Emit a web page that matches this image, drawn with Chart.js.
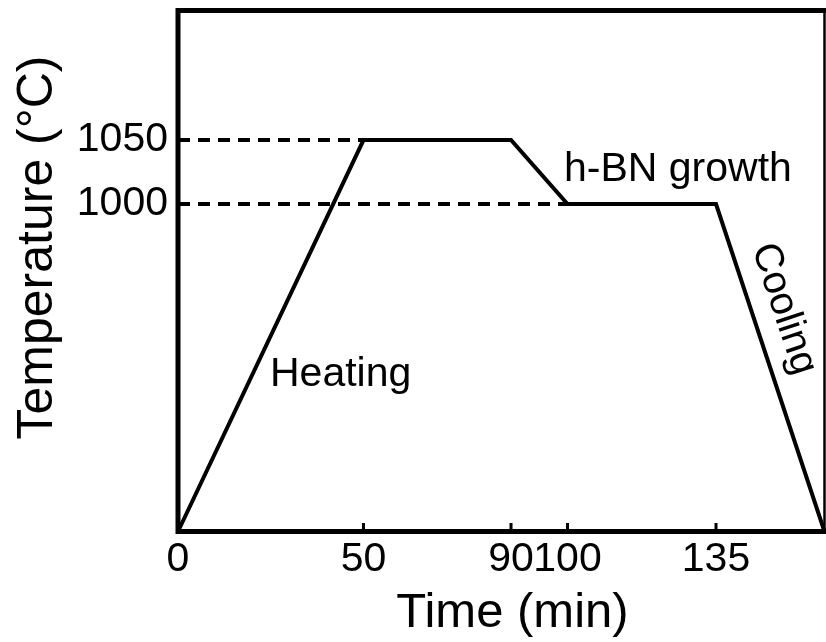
<!DOCTYPE html>
<html>
<head>
<meta charset="utf-8">
<script src="https://cdn.jsdelivr.net/npm/chart.js@4.4.1/dist/chart.umd.min.js"></script>
<style>
  html, body { margin: 0; padding: 0; background: #ffffff; }
  #wrap { width: 826px; height: 642px; }
</style>
</head>
<body>
<div id="wrap"><canvas id="c" width="826" height="642"></canvas></div>
<script>
const timeMin      = [0, 50, 90, 100, 135, 165];          // min
const temperatureC = [25, 1050, 1050, 1000, 1000, 25];     // °C
const xTickValues  = [0, 50, 90, 100, 135];
const yTickValues  = [1000, 1050];
const guideLevels  = [1050, 1000];   // dashed reference levels (°C)
const guideEnds    = [50, 100];      // time where each dashed level meets the profile
const stageLabels  = ['Heating', 'h-BN growth', 'Cooling'];
const xTitle = 'Time (min)';
const yTitle = 'Temperature (°C)';

// ---- Schematic (piecewise) axis layout ----
const BREAKS = {
  x: { values: [0, 50, 90, 100, 135, 165], fracs: [0, 0.2869, 0.5151, 0.6025, 0.8322, 1] },
  y: { values: [25, 1000, 1050, 1150], fracs: [0, 0.6286, 0.7514, 1] }
};

class PiecewiseScale extends Chart.LinearScale {
  static id = 'piecewise';
  static defaults = Chart.LinearScale.defaults;
  getPixelForValue(value) {
    const b = BREAKS[this.id];
    const v = b.values, f = b.fracs;
    let d;
    if (value <= v[0]) d = f[0];
    else if (value >= v[v.length - 1]) d = f[f.length - 1];
    else {
      for (let i = 0; i < v.length - 1; i++) {
        if (value >= v[i] && value <= v[i + 1]) {
          d = f[i] + (value - v[i]) / (v[i + 1] - v[i]) * (f[i + 1] - f[i]);
          break;
        }
      }
    }
    return this.getPixelForDecimal(d);
  }
  getValueForPixel(pixel) {
    const b = BREAKS[this.id];
    const v = b.values, f = b.fracs;
    const d = this.getDecimalForPixel(pixel);
    for (let i = 0; i < f.length - 1; i++) {
      if (d >= f[i] && d <= f[i + 1]) {
        return v[i] + (d - f[i]) / (f[i + 1] - f[i]) * (v[i + 1] - v[i]);
      }
    }
    return d <= 0 ? v[0] : v[v.length - 1];
  }
}
Chart.register(PiecewiseScale);

const FONT = 'Arial, "Liberation Sans", sans-serif';

const profile = timeMin.map((t, i) => ({ x: t, y: temperatureC[i] }));
const guideSets = guideLevels.map((lvl, i) => ({
  data: [{ x: 0, y: lvl }, { x: guideEnds[i], y: lvl }],
  borderColor: '#000',
  borderWidth: 4,
  borderDash: [12, 8],
  pointRadius: 0,
  fill: false,
  tension: 0,
  clip: false
}));

const framePlugin = {
  id: 'frameAndText',
  afterDatasetsDraw(chart) {
    const ctx = chart.ctx;
    const a = chart.chartArea;
    const xs = chart.scales.x, ys = chart.scales.y;
    ctx.save();
    ctx.strokeStyle = '#000';
    ctx.lineCap = 'butt';
    // frame
    ctx.lineWidth = 5;
    ctx.beginPath();
    ctx.moveTo(a.left, a.bottom + 2.5);
    ctx.lineTo(a.left, a.top);
    ctx.moveTo(a.left - 2.5, a.top);
    ctx.lineTo(chart.width, a.top);
    ctx.moveTo(a.left - 2.5, a.bottom);
    ctx.lineTo(chart.width, a.bottom);
    ctx.stroke();
    ctx.lineWidth = 2.5;
    ctx.beginPath();
    ctx.moveTo(a.right, a.top);
    ctx.lineTo(a.right, a.bottom);
    ctx.stroke();
    // inward tick marks
    ctx.lineWidth = 3;
    ctx.beginPath();
    xTickValues.forEach(v => {
      if (v === xTickValues[0]) return;
      const px = xs.getPixelForValue(v);
      ctx.moveTo(px, a.bottom);
      ctx.lineTo(px, a.bottom - 8.5);
    });
    yTickValues.forEach(v => {
      const py = ys.getPixelForValue(v);
      ctx.moveTo(a.left, py);
      ctx.lineTo(a.left + 7, py);
    });
    ctx.stroke();

    // stage labels
    ctx.fillStyle = '#000';
    ctx.textBaseline = 'alphabetic';
    ctx.font = '41px ' + FONT;
    ctx.textAlign = 'left';
    ctx.fillText(stageLabels[0], 270, 386);
    ctx.fillText(stageLabels[1], 564, 181);
    // "Cooling" runs parallel to the cooling segment
    const n = timeMin.length;
    const x0 = xs.getPixelForValue(timeMin[n - 2]), y0 = ys.getPixelForValue(temperatureC[n - 2]);
    const x1 = xs.getPixelForValue(timeMin[n - 1]), y1 = ys.getPixelForValue(temperatureC[n - 1]);
    const ang = Math.atan2(y1 - y0, x1 - x0);
    ctx.save();
    ctx.translate(752, 248);
    ctx.rotate(ang);
    ctx.font = '40px ' + FONT;
    ctx.fillText(stageLabels[2], 0, 0);
    ctx.restore();

    // axis titles
    ctx.textAlign = 'center';
    ctx.font = '49px ' + FONT;
    ctx.fillText(xTitle, 512.5, 627);
    ctx.save();
    ctx.translate(51.5, 247.5);
    ctx.rotate(-Math.PI / 2);
    ctx.font = '50px ' + FONT;
    ctx.fillText(yTitle, 0, 0);
    ctx.restore();
    ctx.restore();
  }
};

new Chart(document.getElementById('c'), {
  type: 'line',
  data: {
    datasets: [
      ...guideSets,
      {
        data: profile,
        borderColor: '#000',
        borderWidth: 4,
        borderJoinStyle: 'miter',
        pointRadius: 0,
        fill: false,
        tension: 0,
        clip: false
      }
    ]
  },
  options: {
    responsive: false,
    animation: false,
    devicePixelRatio: 1,
    layout: { autoPadding: false, padding: { top: 10.5, right: 1.5, left: 0, bottom: 0 } },
    plugins: { legend: { display: false }, tooltip: { enabled: false } },
    scales: {
      x: {
        type: 'piecewise',
        min: timeMin[0],
        max: timeMin[timeMin.length - 1],
        grid: { display: false, drawTicks: false },
        border: { display: false },
        afterBuildTicks: s => { s.ticks = xTickValues.map(v => ({ value: v })); },
        afterFit: s => { s.height = 110.5; s.paddingLeft = 0; s.paddingRight = 0; },
        ticks: {
          autoSkip: false,
          maxRotation: 0,
          padding: 4,
          color: '#000',
          font: { family: FONT, size: 41 },
          callback: v => String(v)
        }
      },
      y: {
        type: 'piecewise',
        min: 25,
        max: 1150,
        grid: { display: false, drawTicks: false },
        border: { display: false },
        afterBuildTicks: s => { s.ticks = yTickValues.map(v => ({ value: v })); },
        afterFit: s => { s.width = 178; s.paddingTop = 0; s.paddingBottom = 0; },
        ticks: {
          autoSkip: false,
          padding: 10,
          color: '#000',
          font: { family: FONT, size: 41 },
          callback: v => String(v)
        }
      }
    }
  },
  plugins: [framePlugin]
});
</script>
</body>
</html>
